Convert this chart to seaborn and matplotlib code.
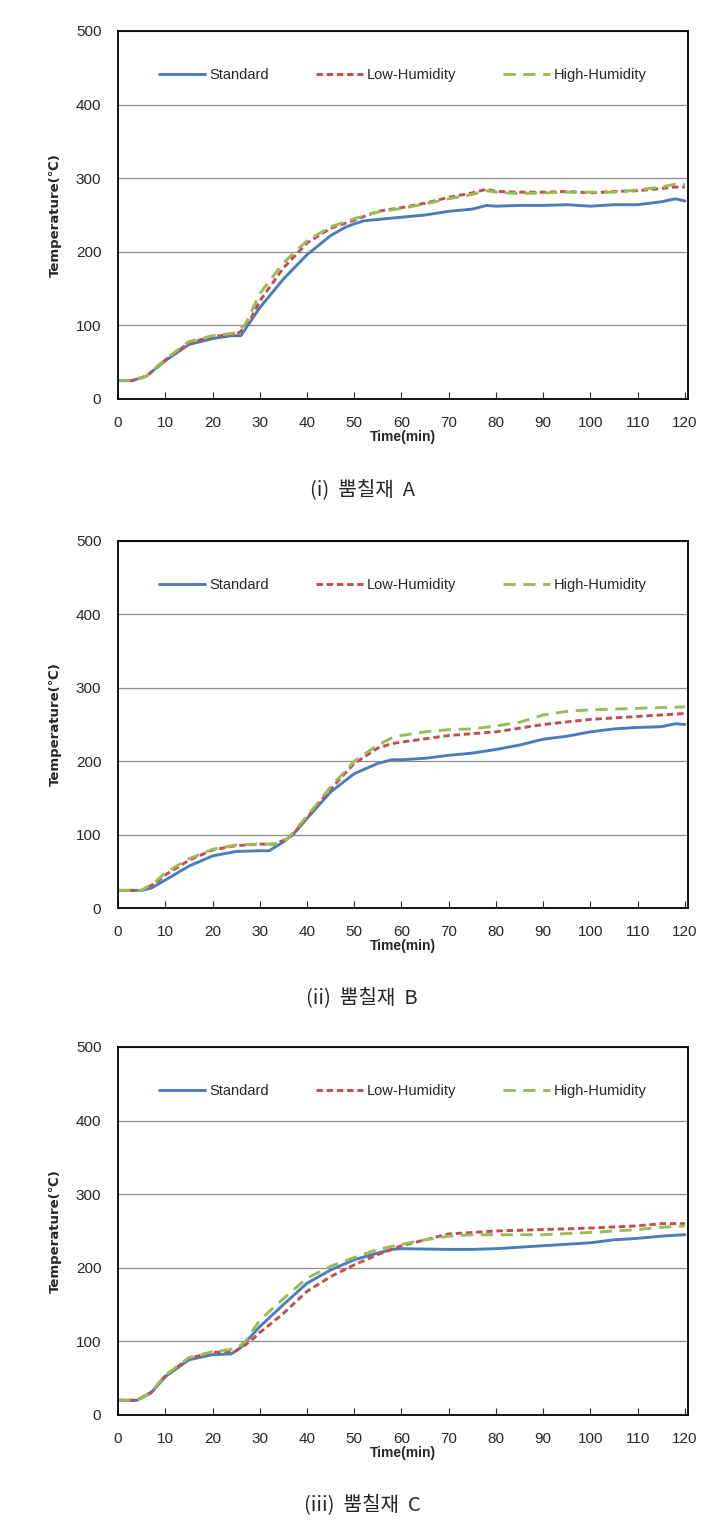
import matplotlib
matplotlib.use("Agg")
import matplotlib.pyplot as plt
import seaborn as sns

# --- Data ---
# (i) 뿜칠재 A
a_std_t = [0, 3, 6, 10, 15, 20, 24, 26, 30, 35, 40, 45, 48, 50, 52, 55, 60, 65, 70, 75, 78, 80, 85, 90, 95, 100, 105, 110, 115, 118, 120]
a_std_v = [25, 25, 31, 52, 74, 82, 86, 86, 124, 163, 196, 222, 233, 238, 242, 244, 247, 250, 255, 258, 263, 262, 263, 263, 264, 262, 264, 264, 268, 272, 269]
a_low_t = [0, 3, 6, 10, 15, 20, 25, 26, 28, 30, 35, 40, 45, 50, 55, 60, 65, 70, 75, 78, 80, 85, 90, 95, 100, 105, 110, 115, 118, 120]
a_low_v = [25, 25, 31, 53, 76, 85, 88, 92, 108, 133, 178, 212, 232, 243, 255, 260, 266, 274, 280, 285, 282, 281, 281, 282, 280, 282, 283, 286, 288, 288]
a_high_t = [0, 3, 6, 10, 15, 20, 25, 27, 30, 35, 40, 45, 50, 55, 60, 65, 70, 75, 78, 80, 85, 90, 95, 100, 105, 110, 115, 118, 120]
a_high_v = [25, 25, 31, 54, 78, 86, 90, 102, 143, 185, 215, 234, 245, 254, 259, 265, 272, 278, 283, 281, 279, 280, 281, 281, 281, 284, 288, 292, 291]

# (ii) 뿜칠재 B
b_std_t = [0, 5, 7, 10, 15, 20, 25, 30, 32, 35, 37, 40, 45, 50, 55, 58, 60, 65, 70, 75, 80, 85, 90, 95, 100, 105, 110, 115, 118, 120]
b_std_v = [24, 24, 27, 38, 57, 71, 77, 78, 78, 90, 100, 122, 158, 183, 197, 202, 202, 204, 208, 211, 216, 222, 230, 234, 240, 244, 246, 247, 251, 250]
b_low_t = [0, 5, 8, 10, 15, 20, 25, 30, 33, 35, 37, 40, 45, 50, 55, 58, 60, 70, 80, 90, 100, 110, 120]
b_low_v = [24, 24, 34, 45, 65, 79, 85, 87, 87, 92, 100, 123, 162, 197, 218, 224, 226, 235, 240, 250, 257, 261, 265]
b_high_t = [0, 5, 8, 10, 15, 20, 25, 30, 33, 36, 40, 45, 50, 55, 58, 60, 65, 70, 75, 80, 85, 90, 95, 100, 110, 120]
b_high_v = [24, 24, 36, 48, 67, 80, 86, 87, 87, 95, 125, 165, 200, 222, 232, 235, 240, 243, 244, 248, 253, 263, 268, 270, 272, 274]

# (iii) 뿜칠재 C
c_std_t = [0, 4, 7, 10, 15, 20, 24, 26, 30, 35, 40, 45, 50, 55, 58, 60, 70, 75, 80, 85, 90, 95, 100, 105, 110, 115, 120]
c_std_v = [20, 20, 30, 52, 75, 82, 83, 92, 120, 150, 179, 197, 211, 220, 225, 226, 225, 225, 226, 228, 230, 232, 234, 238, 240, 243, 245]
c_low_t = [0, 4, 7, 10, 15, 20, 25, 28, 30, 35, 40, 45, 50, 55, 60, 65, 70, 75, 80, 90, 100, 110, 115, 120]
c_low_v = [20, 20, 31, 53, 77, 85, 87, 100, 112, 138, 168, 188, 204, 218, 230, 238, 246, 248, 250, 252, 254, 257, 260, 260]
c_high_t = [0, 4, 7, 10, 15, 20, 25, 27, 30, 35, 40, 45, 50, 55, 60, 65, 70, 75, 80, 90, 100, 110, 115, 120]
c_high_v = [20, 20, 31, 54, 78, 86, 90, 100, 129, 158, 186, 202, 214, 225, 232, 238, 243, 245, 245, 245, 248, 252, 255, 257]

captions = ["(i)  뿜칠재  A", "(ii)  뿜칠재  B", "(iii)  뿜칠재  C"]
series_names = ["Standard", "Low-Humidity", "High-Humidity"]
x_ticks = list(range(0, 121, 10))
y_ticks = list(range(0, 501, 100))

panels = [
    [(a_std_t, a_std_v), (a_low_t, a_low_v), (a_high_t, a_high_v)],
    [(b_std_t, b_std_v), (b_low_t, b_low_v), (b_high_t, b_high_v)],
    [(c_std_t, c_std_v), (c_low_t, c_low_v), (c_high_t, c_high_v)],
]

# --- Style ---
sns.set_style("white")
plt.rcParams["font.family"] = ["Liberation Sans", "DejaVu Sans"]

colors = ["#4a7ebb", "#c0504d", "#9bbb59"]
styles = ["-", (0, (2.2, 1.3)), (0, (4.2, 2.6))]

fig = plt.figure(figsize=(7.24, 15.28), dpi=100)

# axes positions in figure fractions (left, bottom, width, height)
ax_rects = [
    (0.163, 1 - 399 / 1528, 0.787, 368 / 1528),
    (0.163, 1 - 908 / 1528, 0.787, 367 / 1528),
    (0.163, 1 - 1415 / 1528, 0.787, 368 / 1528),
]
caption_y = [1 - 490 / 1528, 1 - 998 / 1528, 1 - 1505 / 1528]

for i, data in enumerate(panels):
    ax = fig.add_axes(ax_rects[i])
    for (t, v), name, c, ls in zip(data, series_names, colors, styles):
        sns.lineplot(x=t, y=v, ax=ax, color=c, linestyle=ls, linewidth=2.1, label=name)

    ax.set_xlim(0, 120.6)
    ax.set_ylim(0, 500)
    ax.set_xticks(x_ticks)
    ax.set_yticks(y_ticks)
    ax.yaxis.grid(True, color="#8c8c8c", linewidth=0.9)
    ax.xaxis.grid(False)
    ax.set_axisbelow(True)
    for s in ax.spines.values():
        s.set_color("black")
        s.set_linewidth(1.3)
    ax.tick_params(axis="x", direction="in", length=5, width=0.8, pad=12, labelsize=11, bottom=True)
    ax.tick_params(axis="y", length=0, pad=12, labelsize=11)

    ax.set_xlabel("Time(min)", fontsize=10, fontweight="bold", labelpad=0)
    ax.set_ylabel("Temperature(℃)", fontsize=9.5, fontweight="bold", labelpad=10,
                  family=["DejaVu Sans"])

    ax.legend(loc="upper center", bbox_to_anchor=(0.5, 0.935), ncol=3, frameon=False,
              fontsize=10.5, handlelength=3.2, columnspacing=3.2, handletextpad=0.3)

    fig.text(0.5, caption_y[i], captions[i], ha="center", va="center", fontsize=14.5,
             family=["Noto Sans CJK KR", "DejaVu Sans"])

fig.savefig("out.png", dpi=100)
